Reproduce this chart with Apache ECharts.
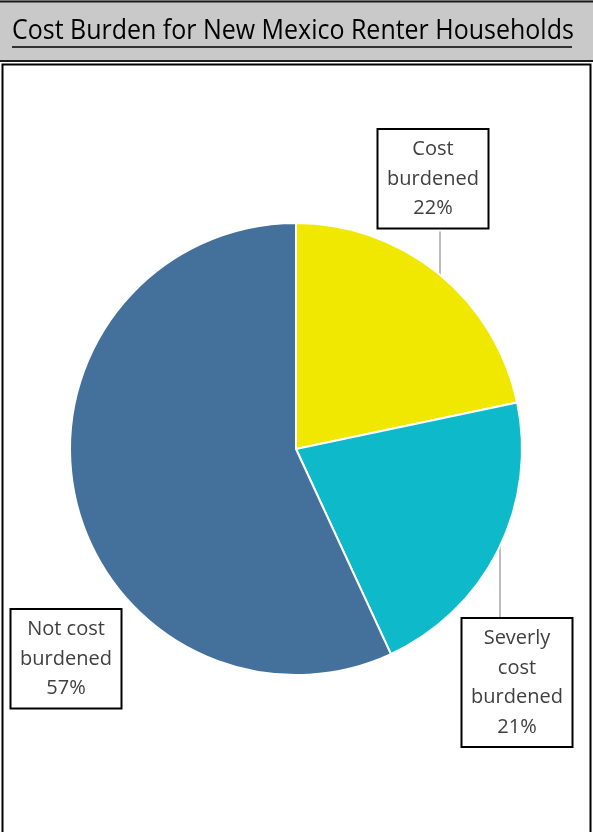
<!DOCTYPE html>
<html>
<head>
<meta charset="utf-8">
<script src="https://cdn.jsdelivr.net/npm/echarts@6/dist/echarts.min.js"></script>
<style>
html,body{margin:0;padding:0;background:#fff;}
#chart{width:593px;height:832px;}
</style>
</head>
<body>
<div id="chart"></div>
<script>
const titleText = 'Cost Burden for New Mexico Renter Households';
const categories = ['Cost\nburdened', 'Severly\ncost\nburdened', 'Not cost\nburdened'];
const values = [21.7, 21.4, 56.9];
const colors = ['#F0E800', '#0EBACA', '#44719C'];

const W = 593, H = 832;
const CX = 296, CY = 449, R = 226;
// label box placement (layout only): center x, top y
const labelBoxes = [
  {x: 433, y: 130},
  {x: 517, y: 619},
  {x: 66, y: 610}
];

const chart = echarts.init(document.getElementById('chart'), null, {renderer: 'canvas'});

function edgeY(x, sign) {
  const dx = x - CX;
  return CY + sign * Math.sqrt(Math.max(0, R * R - dx * dx));
}

const option = {
  animation: false,
  backgroundColor: '#ffffff',
  graphic: [
    {type: 'rect', shape: {x: 0, y: 0, width: W, height: 62}, style: {fill: '#C9C9C9'}, z: 0},
    {type: 'line', shape: {x1: 0, y1: 1.5, x2: W, y2: 1.5}, style: {stroke: '#1a1a1a', lineWidth: 2}},
    {type: 'line', shape: {x1: 0, y1: 61, x2: W, y2: 61}, style: {stroke: '#1a1a1a', lineWidth: 2}},
    {type: 'rect', shape: {x: 2.5, y: 64.5, width: 588, height: 800}, style: {fill: 'none', stroke: '#000', lineWidth: 2}},
    {type: 'text', x: 12, y: 18, scaleX: 0.925, style: {text: titleText, font: '27px "Open Sans"', fill: '#000', verticalAlign: 'top', align: 'left'}},
    {type: 'line', shape: {x1: 12, y1: 47, x2: 572, y2: 47}, style: {stroke: '#000', lineWidth: 1.5}}
  ],
  series: [{
    type: 'pie',
    center: [CX, CY],
    radius: R,
    startAngle: 90,
    clockwise: true,
    itemStyle: {borderColor: '#ffffff', borderWidth: 2},
    data: categories.map((c, i) => ({name: c, value: values[i], itemStyle: {color: colors[i]}})),
    label: {
      show: true,
      formatter: p => p.name + '\n' + Math.round(p.percent) + '%',
      fontFamily: 'Open Sans',
      fontSize: 20,
      lineHeight: 29.5,
      color: '#404040',
      align: 'center',
      backgroundColor: '#ffffff',
      borderColor: '#000000',
      borderWidth: 2,
      width: 95,
      padding: [5, 7, 4, 7]
    },
    labelLine: {show: true, lineStyle: {color: '#A6A6A6', width: 1.5}},
    labelLayout: function (params) {
      const b = labelBoxes[params.dataIndex];
      const res = {x: b.x, y: b.y, align: 'center', verticalAlign: 'top'};
      const h = params.labelRect.height;
      if (params.dataIndex === 0) {
        const lx = b.x + 7;
        res.labelLinePoints = [[lx, edgeY(lx, -1)], [lx, edgeY(lx, -1)], [lx, b.y + h]];
      } else if (params.dataIndex === 1) {
        const lx = b.x - 17;
        res.labelLinePoints = [[lx, edgeY(lx, 1)], [lx, edgeY(lx, 1)], [lx, b.y]];
      } else {
        res.labelLinePoints = [[0, 0], [0, 0], [0, 0]];
      }
      return res;
    }
  }]
};
chart.setOption(option);
</script>
</body>
</html>
